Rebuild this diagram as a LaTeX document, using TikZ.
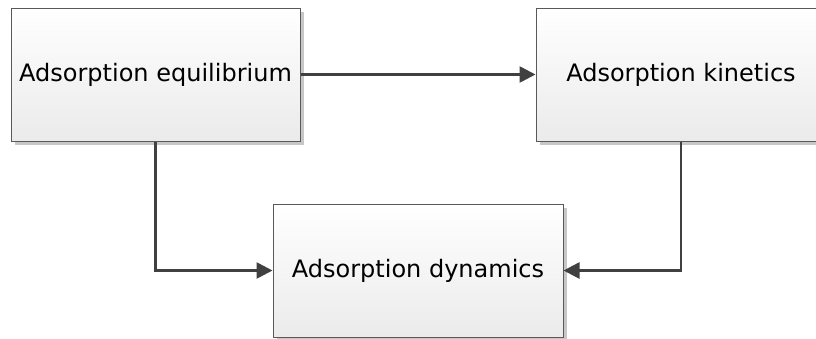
\documentclass[tikz,border=0pt]{standalone}
\usepackage{fontspec}
\setmainfont{DejaVu Sans}
\usetikzlibrary{arrows.meta,shadows}
\begin{document}
\begin{tikzpicture}[x=1pt,y=-1pt,
  block/.style={draw=black!65,line width=1pt,top color=white,bottom color=black!8,
    minimum width=289pt,minimum height=133pt,inner sep=0pt,font=\fontsize{24}{28}\selectfont,
    drop shadow={shadow xshift=4pt,shadow yshift=-4pt,fill=black!22,opacity=1}},
  link/.style={draw=black!75,line width=2.6pt,-{Triangle[length=16pt,width=16pt]}}]
  \useasboundingbox (0,0) rectangle (816,338);
  \node[block] (eq) at (155.5,74.5) {Adsorption equilibrium};
  \node[block,minimum width=290pt] (kin) at (681,74.5) {Adsorption kinetics};
  \node[block,minimum width=290pt] (dyn) at (418,270.5) {Adsorption dynamics};
  \draw[link] (eq.east) -- (kin.west);
  \draw[link] (eq.south) |- (dyn.west);
  \draw[link] (kin.south) |- (dyn.east);
\end{tikzpicture}
\end{document}
